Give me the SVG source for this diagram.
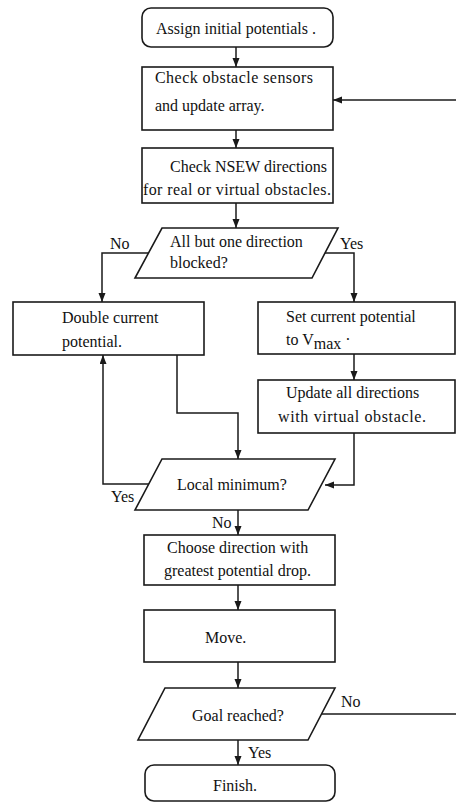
<svg xmlns="http://www.w3.org/2000/svg" width="456" height="803" viewBox="0 0 456 803">
<style>
.box{fill:#fff;stroke:#1a1a1a;stroke-width:1.6}
.ln{fill:none;stroke:#1a1a1a;stroke-width:1.5}
text{font-family:"Liberation Serif","Times New Roman",serif;font-size:16px;fill:#111}
</style>
<defs>
<marker id="ah" markerUnits="userSpaceOnUse" markerWidth="10" markerHeight="8" refX="9" refY="3.5" orient="auto">
<path d="M0,0 L9,3.5 L0,7 z" fill="#1a1a1a"/>
</marker>
</defs>
<rect width="456" height="803" fill="#fff"/>
<g id="connectors">
<path class="ln" d="M236,47 V67" marker-end="url(#ah)"/>
<path class="ln" d="M456,100 H333" marker-end="url(#ah)"/>
<path class="ln" d="M236,130 V148" marker-end="url(#ah)"/>
<path class="ln" d="M236,203 V228" marker-end="url(#ah)"/>
<path class="ln" d="M148.5,253 H102 V302" marker-end="url(#ah)"/>
<path class="ln" d="M325,253 H354 V302" marker-end="url(#ah)"/>
<path class="ln" d="M354,354 V380" marker-end="url(#ah)"/>
<path class="ln" d="M354,433 V485 H325" marker-end="url(#ah)"/>
<path class="ln" d="M177,355 V413 H238 V459" marker-end="url(#ah)"/>
<path class="ln" d="M149,484 H103 V355" marker-end="url(#ah)"/>
<path class="ln" d="M238,510 V535" marker-end="url(#ah)"/>
<path class="ln" d="M238,585 V610" marker-end="url(#ah)"/>
<path class="ln" d="M238,662 V688" marker-end="url(#ah)"/>
<path class="ln" d="M321.5,714 H456"/>
<path class="ln" d="M238,740 V765" marker-end="url(#ah)"/>
<text x="110" y="249">No</text>
<text x="340" y="249">Yes</text>
<text x="111" y="502">Yes</text>
<text x="212" y="528">No</text>
<text x="341" y="707">No</text>
<text x="248" y="758">Yes</text>
</g>
<g id="assign">
<rect class="box" x="142" y="8" width="191" height="39" rx="9"/>
<text x="156" y="34">Assign initial potentials .</text>
</g>
<g id="check-sensors">
<rect class="box" x="142" y="67" width="191" height="63"/>
<text x="155" y="83" textLength="158" lengthAdjust="spacing">Check obstacle sensors</text>
<text x="155" y="111">and update array.</text>
</g>
<g id="check-nsew">
<rect class="box" x="142" y="148" width="191" height="55"/>
<text x="170" y="172">Check NSEW directions</text>
<text x="143" y="195" textLength="188" lengthAdjust="spacing">for real or virtual obstacles.</text>
</g>
<g id="all-but-one">
<polygon class="box" points="162,228 338,228 312,278 135,278"/>
<text x="170" y="247">All but one direction</text>
<text x="170" y="268">blocked?</text>
</g>
<g id="double">
<rect class="box" x="13" y="302" width="191" height="53"/>
<text x="62" y="323">Double current</text>
<text x="62" y="347">potential.</text>
</g>
<g id="set-vmax">
<rect class="box" x="258" y="302" width="197" height="52"/>
<text x="286" y="322">Set current potential</text>
<text x="286" y="345">to V<tspan dy="4">max</tspan><tspan dy="-4"> ·</tspan></text>
</g>
<g id="update">
<rect class="box" x="258" y="380" width="197" height="53"/>
<text x="286" y="398">Update all directions</text>
<text x="278" y="422" textLength="148" lengthAdjust="spacing">with virtual obstacle.</text>
</g>
<g id="local-min">
<polygon class="box" points="162,459 335,459 308,510 135,510"/>
<text x="177" y="490">Local minimum?</text>
</g>
<g id="choose">
<rect class="box" x="144" y="535" width="191" height="50"/>
<text x="167" y="553">Choose direction with</text>
<text x="164" y="576">greatest potential drop.</text>
</g>
<g id="move">
<rect class="box" x="144" y="610" width="191" height="52"/>
<text x="205" y="643">Move.</text>
</g>
<g id="goal">
<polygon class="box" points="165,688 335,688 308,740 138,740"/>
<text x="192" y="721">Goal reached?</text>
</g>
<g id="finish">
<rect class="box" x="145" y="765" width="190" height="36" rx="9"/>
<text x="213" y="791">Finish.</text>
</g>
</svg>
